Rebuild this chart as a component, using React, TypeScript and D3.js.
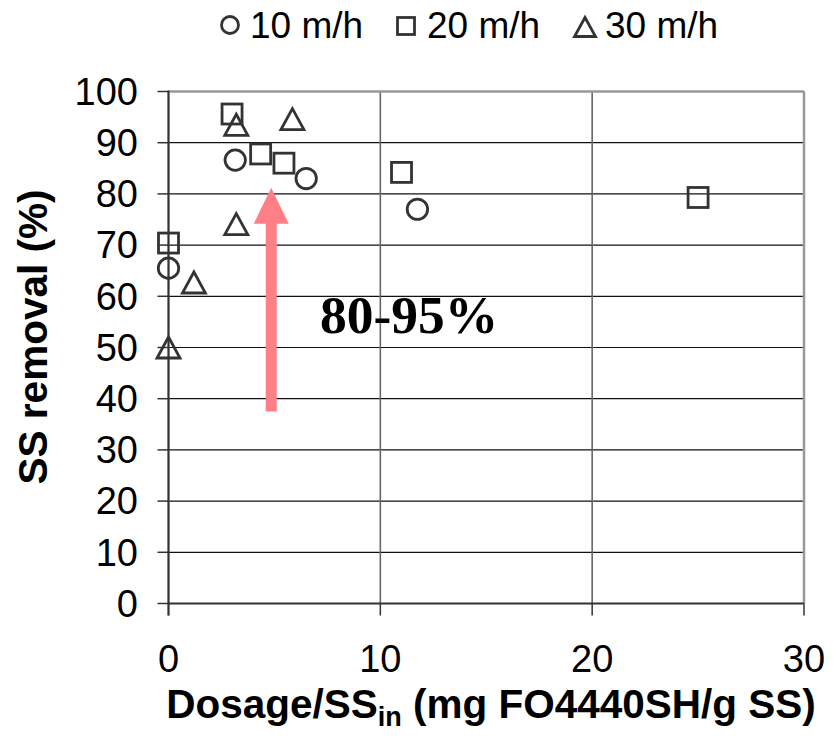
import React from "react";
import * as d3 from "d3";

// Series: dosage per inlet SS (mg FO4440SH / g SS) vs SS removal (%)
const series10x = [0, 3.15, 6.5, 11.75];
const series10y = [65.5, 86.6, 83.0, 77.0];
const series20x = [0, 3.0, 4.35, 5.45, 11.0, 25.0];
const series20y = [70.4, 95.6, 87.8, 86.0, 84.2, 79.3];
const series30x = [0, 1.2, 3.2, 3.2, 5.85];
const series30y = [50.0, 62.7, 74.1, 93.5, 94.6];

const xTicks = [0, 10, 20, 30];
const yTicks = [0, 10, 20, 30, 40, 50, 60, 70, 80, 90, 100];
const legendLabels = ["10 m/h", "20 m/h", "30 m/h"];

// Highlight arrow (dosage position, from / to removal %)
const arrowX = 4.85;
const arrowFrom = 37.5;
const arrowTo = 81.2;
const rangeLabel = "80-95%";

const W = 835;
const H = 740;
const SANS = "'Liberation Sans', Arial, sans-serif";
const SERIF = "'Liberation Serif', 'Times New Roman', serif";
const INK = "#333";

const x = d3.scaleLinear().domain([0, 30]).range([168.5, 804]);
const y = d3.scaleLinear().domain([0, 100]).range([603.5, 91.5]);

function Circle({ cx, cy, r = 10 }: { cx: number; cy: number; r?: number }) {
  return <circle cx={cx} cy={cy} r={r} fill="none" stroke={INK} strokeWidth={2.8} />;
}
function Square({ cx, cy, s = 20 }: { cx: number; cy: number; s?: number }) {
  return (
    <rect x={cx - s / 2} y={cy - s / 2} width={s} height={s} fill="none" stroke={INK} strokeWidth={2.8} />
  );
}
function Triangle({ cx, cy, w = 23, h = 21 }: { cx: number; cy: number; w?: number; h?: number }) {
  const p = d3.path();
  p.moveTo(cx, cy - h / 2);
  p.lineTo(cx + w / 2, cy + h / 2);
  p.lineTo(cx - w / 2, cy + h / 2);
  p.closePath();
  return <path d={p.toString()} fill="none" stroke={INK} strokeWidth={2.8} strokeLinejoin="miter" />;
}

export default function App() {
  const [x0, x1] = x.range();
  const [y0, y1] = y.range();

  // arrow geometry
  const ax = x(arrowX);
  const aTip = y(arrowTo);
  const aBase = y(arrowFrom);
  const headLen = 36;
  const headW = 35;
  const shaftW = 11;
  const arrow = d3.path();
  arrow.moveTo(ax - shaftW / 2, aBase);
  arrow.lineTo(ax - shaftW / 2, aTip + headLen);
  arrow.lineTo(ax - headW / 2, aTip + headLen);
  arrow.lineTo(ax, aTip);
  arrow.lineTo(ax + headW / 2, aTip + headLen);
  arrow.lineTo(ax + shaftW / 2, aTip + headLen);
  arrow.lineTo(ax + shaftW / 2, aBase);
  arrow.closePath();

  return (
    <svg
      width={W}
      height={H}
      viewBox={`0 0 ${W} ${H}`}
      style={{ position: "absolute", left: 0, top: 0, background: "#fff" }}
    >
      <rect width={W} height={H} fill="#fff" />

      {/* gridlines */}
      {yTicks.map((t) => (
        <line key={"gy" + t} x1={x0} x2={x1} y1={y(t)} y2={y(t)} stroke="#111" strokeWidth={1.2} />
      ))}
      {xTicks.map((t) => (
        <line key={"gx" + t} x1={x(t)} x2={x(t)} y1={y1} y2={y0} stroke="#666" strokeWidth={1.6} />
      ))}
      {/* frame top & right */}
      <line x1={x0} x2={x1} y1={y1} y2={y1} stroke="#999" strokeWidth={2.5} />
      <line x1={x1} x2={x1} y1={y1} y2={y0} stroke="#999" strokeWidth={2.5} />

      {/* axes */}
      <line x1={x0} x2={x0} y1={y1 - 1} y2={y0 + 12} stroke={INK} strokeWidth={2} />
      <line x1={x0} x2={x1} y1={y0} y2={y0} stroke={INK} strokeWidth={2} />
      {yTicks.map((t) => (
        <line key={"ty" + t} x1={x0 - 11} x2={x0} y1={y(t)} y2={y(t)} stroke={INK} strokeWidth={1.5} />
      ))}
      {xTicks.map((t) => (
        <line key={"tx" + t} x1={x(t)} x2={x(t)} y1={y0} y2={y0 + 12} stroke={INK} strokeWidth={1.5} />
      ))}

      {/* tick labels */}
      {yTicks.map((t) => (
        <text
          key={"ly" + t}
          x={138}
          y={y(t)}
          dy="0.35em"
          textAnchor="end"
          fontFamily={SANS}
          fontSize={38}
          fill="#000"
        >
          {t}
        </text>
      ))}
      {xTicks.map((t) => (
        <text
          key={"lx" + t}
          x={x(t)}
          y={672}
          textAnchor="middle"
          fontFamily={SANS}
          fontSize={38}
          fill="#000"
        >
          {t}
        </text>
      ))}

      {/* axis titles */}
      <text
        transform="translate(47,337) rotate(-90)"
        textAnchor="middle"
        fontFamily={SANS}
        fontWeight="bold"
        fontSize={40.5}
        fill="#000"
      >
        SS removal (%)
      </text>
      <text x={491} y={718} textAnchor="middle" fontFamily={SANS} fontWeight="bold" fontSize={40.5} fill="#000">
        Dosage/SS
        <tspan fontSize={27} dy={8}>in</tspan>
        <tspan dy={-8}> (mg FO4440SH/g SS)</tspan>
      </text>

      {/* highlight arrow */}
      <path d={arrow.toString()} fill="#FF7F86" />
      <text x={320} y={333} fontFamily={SERIF} fontWeight="bold" fontSize={53.5} fill="#000">
        {rangeLabel}
      </text>

      {/* markers */}
      {series10x.map((v, i) => (
        <Circle key={"c" + i} cx={x(v)} cy={y(series10y[i])} r={10.2} />
      ))}
      {series20x.map((v, i) => (
        <Square key={"s" + i} cx={x(v)} cy={y(series20y[i])} s={20} />
      ))}
      {series30x.map((v, i) => (
        <Triangle key={"t" + i} cx={x(v)} cy={y(series30y[i])} />
      ))}

      {/* legend */}
      <g>
        <Circle cx={230} cy={25} r={8.5} />
        <text x={250} y={38} fontFamily={SANS} fontSize={37} fill="#000">{legendLabels[0]}</text>
        <Square cx={406} cy={26} s={17} />
        <text x={427} y={38} fontFamily={SANS} fontSize={37} fill="#000">{legendLabels[1]}</text>
        <Triangle cx={585} cy={27} w={21} h={19} />
        <text x={605} y={38} fontFamily={SANS} fontSize={37} fill="#000">{legendLabels[2]}</text>
      </g>
    </svg>
  );
}
